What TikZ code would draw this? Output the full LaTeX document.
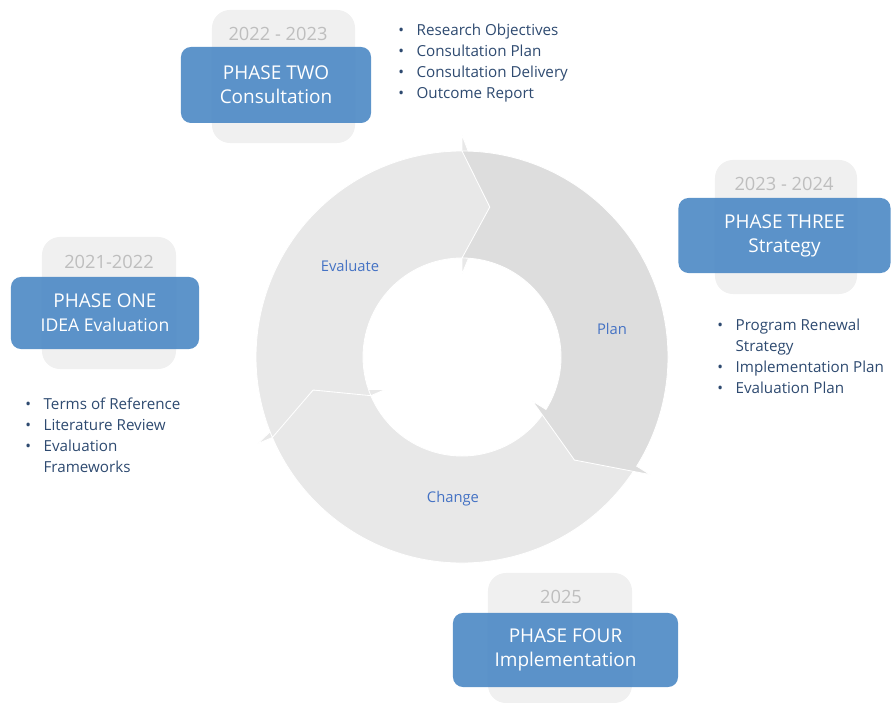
\documentclass[tikz,border=0pt]{standalone}
\usepackage{fontspec}
\setmainfont{Open Sans}
\definecolor{phaseblue}{RGB}{84,142,199}
\definecolor{yeargrey}{RGB}{240,240,240}
\definecolor{yeartext}{RGB}{190,190,190}
\definecolor{ringlight}{RGB}{232,232,232}
\definecolor{ringdark}{RGB}{221,221,221}
\definecolor{ringlabel}{RGB}{68,114,196}
\definecolor{listblue}{RGB}{46,74,112}
% one arrow of the cycle: start angle, end angle, fill
\newcommand{\cyclearrow}[3]{%
  \filldraw[fill=#3, draw=white, line width=0.6pt, shift={(462,345)}]
    (#1:206) arc[start angle=#1, end angle=#2, radius=206]
    -- (#2:222) -- (#2-10.5:152.5) -- (#2:83) -- (#2:99)
    arc[start angle=#2, end angle=#1, radius=99]
    -- (#1-10.5:152.5) -- cycle;}

\begin{document}
\begin{tikzpicture}[x=0.025cm, y=0.025cm,
  yearbox/.style={fill=yeargrey, rounded corners=18*0.025cm, inner sep=0pt},
  yearlabel/.style={text=yeartext, font=\fontsize{13}{15}\selectfont},
  phasebox/.style={fill=phaseblue, fill opacity=0.95, rounded corners=10*0.025cm,
    inner sep=0pt, text=white, text opacity=1, align=center,
    font=\fontsize{13.5}{17}\selectfont},
  steplabel/.style={text=ringlabel, font=\fontsize{10.5}{12}\selectfont},
  tasklist/.style={text=listblue, anchor=north west, inner sep=0pt,
    font=\fontsize{10.8}{14.8}\selectfont}]
  \useasboundingbox (0,0) rectangle (891,702);

  % the cycle
  \cyclearrow{328}{203}{ringlight}
  \cyclearrow{203}{90}{ringlight}
  \cyclearrow{90}{-32}{ringdark}
  \node[steplabel] (evaluate) at (350,436) {Evaluate};
  \node[steplabel] (plan) at (612,373) {Plan};
  \node[steplabel] (change) at (453,203) {Change};

  % phase one
  \node[yearbox, minimum width=3.35cm, minimum height=3.3cm] (yrone) at (109,399) {};
  \node[yearlabel] (yronetxt) at (109,440) {2021-2022};
  \node[phasebox, minimum width=4.7cm, minimum height=1.8cm] (one) at (105,389)
    {PHASE ONE\\{\fontsize{12.5}{17}\selectfont IDEA Evaluation}};
  \node[tasklist] (onelist) at (25,307) {\begin{tabular}{@{}l@{\hspace{9pt}}l@{}}
    \textbullet & Terms of Reference\\
    \textbullet & Literature Review\\
    \textbullet & Evaluation\\
                & Frameworks
  \end{tabular}};

  % phase two
  \node[yearbox, minimum width=3.575cm, minimum height=3.325cm] (yrtwo) at (283.5,625.5) {};
  \node[yearlabel] (yrtwotxt) at (278,668) {2022 - 2023};
  \node[phasebox, minimum width=4.75cm, minimum height=1.9cm] (two) at (276,617)
    {PHASE TWO\\Consultation};
  \node[tasklist] (twolist) at (398,681) {\begin{tabular}{@{}l@{\hspace{9pt}}l@{}}
    \textbullet & Research Objectives\\
    \textbullet & Consultation Plan\\
    \textbullet & Consultation Delivery\\
    \textbullet & Outcome Report
  \end{tabular}};

  % phase three
  \node[yearbox, minimum width=3.55cm, minimum height=3.35cm] (yrthree) at (786,475) {};
  \node[yearlabel] (yrthreetxt) at (784,518) {2023 - 2024};
  \node[phasebox, minimum width=5.3cm, minimum height=1.875cm] (three) at (784.5,466.5)
    {PHASE THREE\\Strategy};
  \node[tasklist] (threelist) at (717,386) {\begin{tabular}{@{}l@{\hspace{9pt}}l@{}}
    \textbullet & Program Renewal\\
                & Strategy\\
    \textbullet & Implementation Plan\\
    \textbullet & Evaluation Plan
  \end{tabular}};

  % phase four
  \node[yearbox, minimum width=3.6cm, minimum height=3.25cm] (yrfour) at (560,64) {};
  \node[yearlabel] (yrfourtxt) at (561,105) {2025};
  \node[phasebox, minimum width=5.625cm, minimum height=1.85cm] (four) at (565.5,52)
    {PHASE FOUR\\Implementation};
\end{tikzpicture}
\end{document}
